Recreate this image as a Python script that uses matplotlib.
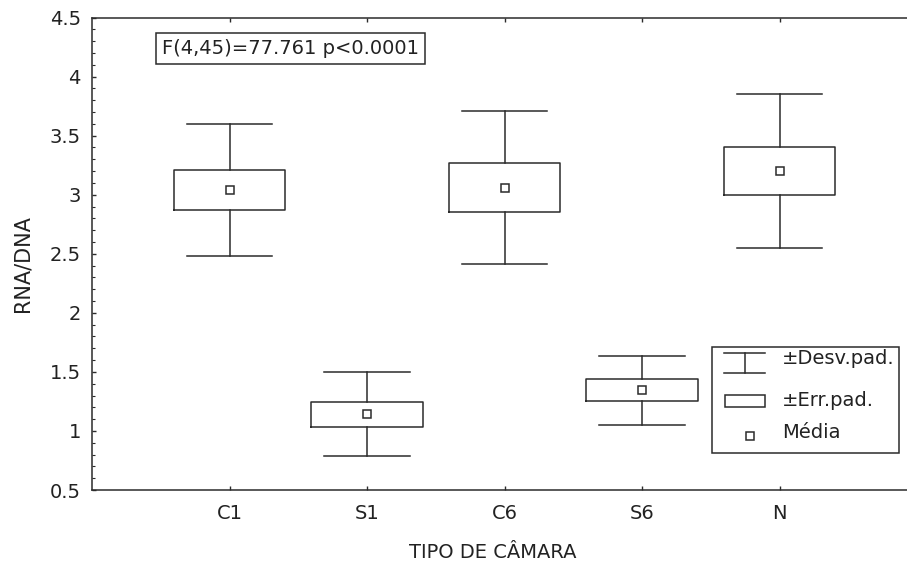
import matplotlib
matplotlib.use("Agg")
import matplotlib.pyplot as plt
from matplotlib.lines import Line2D
from matplotlib.patches import Rectangle
from matplotlib.ticker import MultipleLocator

# RNA/DNA ratio per chamber type: mean, standard error, standard deviation
groups = ["C1", "S1", "C6", "S6", "N"]
means = [3.04, 1.14, 3.06, 1.345, 3.20]
std_err = [0.17, 0.106, 0.205, 0.092, 0.20]
std_dev = [0.56, 0.355, 0.645, 0.293, 0.65]

y_ticks = [0.5, 1, 1.5, 2, 2.5, 3, 3.5, 4, 4.5]
y_tick_labels = ["0.5", "1", "1.5", "2", "2.5", "3", "3.5", "4", "4.5"]
anova_text = "F(4,45)=77.761 p<0.0001"
legend_labels = ["\u00b1Desv.pad.", "\u00b1Err.pad.", "M\u00e9dia"]

W, H = 907, 562
INK = "#2b2b2b"
LW = 1.1
FONT = "DejaVu Sans"
plt.rcParams["font.family"] = [FONT]


def fx(px):
    return px / W


def fy(py):
    return 1 - py / H


fig = plt.figure(figsize=(W / 100, H / 100), dpi=100)
fig.patch.set_facecolor("white")
ax = fig.add_axes([fx(92), fy(490), fx(907) - fx(92), fy(17.5) - fy(490)])

positions = list(range(1, len(groups) + 1))
stats = []
for g, m, se, sd in zip(groups, means, std_err, std_dev):
    stats.append(dict(label=g, mean=m, med=m, q1=m - se, q3=m + se,
                      whislo=m - sd, whishi=m + sd, fliers=[]))

ax.bxp(stats, positions=positions, widths=0.81, capwidths=0.62,
       showmeans=True, showfliers=False, patch_artist=False,
       boxprops=dict(color=INK, linewidth=LW),
       whiskerprops=dict(color=INK, linewidth=LW),
       capprops=dict(color=INK, linewidth=LW),
       medianprops=dict(linewidth=0),
       meanprops=dict(marker="s", markerfacecolor="white",
                      markeredgecolor=INK, markersize=6, markeredgewidth=1.1))

ax.set_xlim(0, 5.927)
ax.set_ylim(0.5, 4.5)
ax.set_xticks(positions)
ax.set_xticklabels(groups)
ax.set_yticks(y_ticks)
ax.set_yticklabels(y_tick_labels)
ax.yaxis.set_minor_locator(MultipleLocator(0.1))

for side in ["left", "top", "bottom"]:
    ax.spines[side].set_color(INK)
    ax.spines[side].set_linewidth(LW)
ax.spines["right"].set_visible(False)

ax.tick_params(axis="both", which="major", direction="in", length=3,
               width=1, color=INK, labelsize=14, labelcolor="#222222")
ax.tick_params(axis="x", top=True, pad=10)
ax.tick_params(axis="y", pad=8)
ax.tick_params(axis="y", which="minor", direction="in", length=2,
               width=0.8, color=INK)

# Axis titles
fig.text(fx(493), fy(553), "TIPO DE C\u00c2MARA", ha="center", va="center",
         fontsize=14, color="#222222")
fig.text(fx(23), fy(263.5), "RNA/DNA", ha="center", va="center",
         rotation=90, fontsize=15, color="#222222")

# ANOVA result box
fig.text(fx(162), fy(48.7), anova_text, ha="left", va="center", fontsize=14,
         color="#222222",
         bbox=dict(boxstyle="square,pad=0.3", fc="white", ec=INK, lw=LW))

# Legend drawn in figure coordinates
fig.add_artist(Rectangle((fx(712), fy(453)), fx(899) - fx(712),
                         fy(347) - fy(453), transform=fig.transFigure,
                         fill=True, fc="white", ec=INK, lw=LW))
# whisker icon
for yy in (353, 373):
    fig.add_artist(Line2D([fx(724), fx(765)], [fy(yy), fy(yy)],
                          transform=fig.transFigure, color=INK, lw=LW))
fig.add_artist(Line2D([fx(744.5), fx(744.5)], [fy(353), fy(373)],
                      transform=fig.transFigure, color=INK, lw=LW))
# box icon
fig.add_artist(Rectangle((fx(725), fy(407)), fx(765) - fx(725),
                         fy(395) - fy(407), transform=fig.transFigure,
                         fill=False, ec=INK, lw=LW))
# mean icon
fig.add_artist(Line2D([fx(750)], [fy(436)], transform=fig.transFigure,
                      marker="s", markersize=6, markerfacecolor="white",
                      markeredgecolor=INK, markeredgewidth=1.1, linestyle=""))
for lab, yy in zip(legend_labels, (359, 401, 433)):
    fig.text(fx(782), fy(yy), lab, ha="left", va="center", fontsize=14,
             color="#222222")

fig.savefig("out.png", dpi=100, facecolor="white")
